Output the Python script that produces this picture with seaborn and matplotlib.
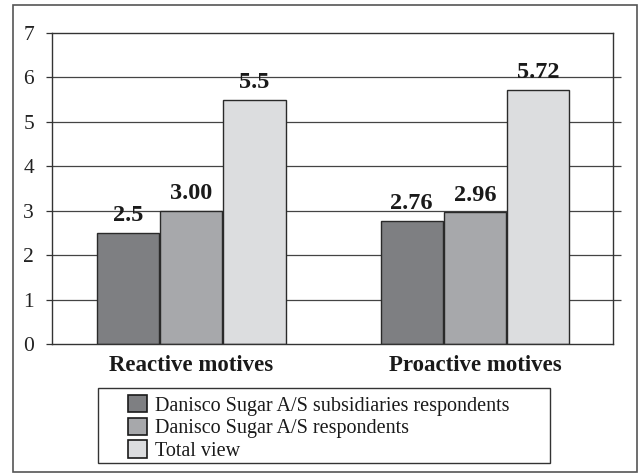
import matplotlib
matplotlib.use("Agg")
import matplotlib.pyplot as plt
import seaborn as sns
import pandas as pd
from matplotlib.patches import Rectangle

categories = ["Reactive motives", "Proactive motives"]
series = ["Danisco Sugar A/S subsidiaries respondents",
          "Danisco Sugar A/S respondents",
          "Total view"]
subsidiaries = [2.5, 2.76]
respondents = [3.00, 2.96]
total_view = [5.5, 5.72]
value_labels = [["2.5", "2.76"], ["3.00", "2.96"], ["5.5", "5.72"]]
colors = ["#7e7f82", "#a7a8ab", "#dcdddf"]

rows = []
for s, vals in zip(series, [subsidiaries, respondents, total_view]):
    for c, v in zip(categories, vals):
        rows.append({"category": c, "series": s, "value": v})
df = pd.DataFrame(rows)

sns.set_theme(style="white")
plt.rcParams["font.family"] = ["Liberation Serif", "DejaVu Serif"]

fig = plt.figure(figsize=(6.41, 4.76), dpi=100)
ax = fig.add_axes([52/641, 1 - 344/476, (613-52)/641, (344-33)/476])

sns.barplot(data=df, x="category", y="value", hue="series", palette=colors,
            width=0.67, gap=0.02, edgecolor="#2a2a2a", linewidth=1.0,
            ax=ax, legend=True, saturation=1)

ax.set_ylim(0, 7)
ax.set_xlim(-0.49, 1.486)
ax.set_yticks(range(0, 8))
ax.set_yticklabels([str(i) for i in range(0, 8)], fontsize=15.5, color="#222222")
ax.tick_params(axis="y", length=4, width=0.9, color="#333333", direction="out", pad=9, left=True)
ax.tick_params(axis="x", length=0, pad=8)
for lbl in ax.get_xticklabels():
    lbl.set_fontsize(16.5)
    lbl.set_fontweight("bold")
    lbl.set_color("#1a1a1a")
ax.set_xlabel("")
ax.set_ylabel("")

for sp in ax.spines.values():
    sp.set_color("#333333")
    sp.set_linewidth(1.0)

# gridlines, extending slightly past the right spine
ax.set_axisbelow(True)
for yv in range(1, 7):
    ax.hlines(yv, 0, 1.015, transform=ax.get_yaxis_transform(), colors="#444444",
              linewidth=0.9, zorder=0.5, clip_on=False)

for container, labs in zip(ax.containers, value_labels):
    ax.bar_label(container, labels=labs, padding=5, fontsize=17.5, fontweight="bold",
                 color="#1a1a1a")

leg = ax.legend(loc="upper left", bbox_to_anchor=(128/641, 1 - 395/476),
                bbox_transform=fig.transFigure, fontsize=14.5, frameon=False,
                borderpad=0.0, handlelength=0.95, handleheight=0.95,
                handletextpad=0.4, labelspacing=0.1, borderaxespad=0)
for h in leg.legend_handles:
    h.set_edgecolor("#1a1a1a")
    h.set_linewidth(1.2)
for t in leg.get_texts():
    t.set_color("#1a1a1a")

# legend box
fig.patches.append(Rectangle((98/641, 1 - 463/476), (550-98)/641, (463-388)/476,
                             transform=fig.transFigure, fill=False,
                             edgecolor="#333333", linewidth=1.0))
# outer frame
fig.patches.append(Rectangle((13/641, 1 - 472/476), (637-13)/641, (472-5)/476,
                             transform=fig.transFigure, fill=False,
                             edgecolor="#555555", linewidth=1.2))

fig.savefig("out.png", dpi=100)
